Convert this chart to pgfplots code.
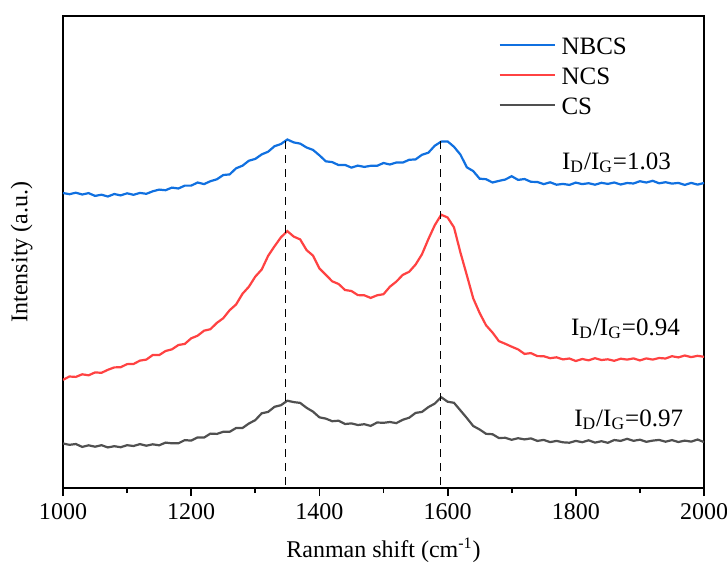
\documentclass[border=0pt]{standalone}
\usepackage{fontspec}
\setmainfont{Liberation Serif}
\usepackage{pgfplots}
\pgfplotsset{compat=1.18}
\usepackage{pgfplotstable}
\definecolor{cblue}{RGB}{16,112,224}
\definecolor{cred}{RGB}{255,66,66}
\definecolor{cgray}{RGB}{80,80,80}

% x = Raman shift, b = NBCS, r = NCS, g = CS (values in picture units, larger = lower)
\pgfplotstableread{
x b r g
1000 193.0 379.8 443.5
1010 194.2 376.5 444.8
1020 192.7 376.9 444.0
1030 194.5 374.3 446.9
1040 193.1 375.3 445.3
1050 195.9 372.4 446.7
1060 194.7 372.8 445.2
1070 196.5 369.8 447.4
1080 194.0 367.4 446.2
1090 195.4 367.2 447.2
1100 193.3 364.1 445.2
1110 194.8 364.0 446.0
1120 192.9 360.6 444.1
1130 193.8 359.6 445.7
1140 191.3 355.0 444.3
1150 189.6 355.1 445.3
1160 190.2 351.0 442.6
1170 187.6 349.3 443.3
1180 188.5 345.0 443.3
1190 185.6 343.9 440.1
1200 185.6 338.3 440.6
1210 182.5 335.7 437.4
1220 184.1 330.7 437.6
1230 181.2 329.2 433.6
1240 179.3 322.9 433.9
1250 175.0 318.2 431.8
1260 174.4 310.2 431.8
1270 168.3 304.5 428.0
1280 165.7 293.8 428.0
1290 160.7 286.7 423.5
1300 158.9 276.6 420.1
1310 154.4 269.5 413.3
1320 151.7 255.9 411.9
1330 146.2 246.3 406.8
1340 144.0 237.3 405.2
1350 139.5 231.1 400.7
1360 142.4 236.6 402.1
1370 143.6 239.4 402.9
1380 147.5 250.1 407.8
1390 149.9 255.6 411.6
1400 155.3 268.4 417.3
1410 161.3 274.8 418.6
1420 162.1 281.3 421.2
1430 165.1 284.0 420.7
1440 164.9 290.0 424.0
1450 167.6 291.0 423.4
1460 165.6 295.1 425.0
1470 166.9 295.3 424.2
1480 165.8 297.9 425.9
1490 165.8 295.3 422.5
1500 163.0 294.2 422.8
1510 164.5 286.7 422.0
1520 162.5 281.6 423.1
1530 162.6 274.9 419.8
1540 159.8 271.8 417.7
1550 159.4 264.6 412.9
1560 154.8 254.3 411.9
1570 152.7 239.1 407.1
1580 145.7 225.2 403.6
1590 141.6 214.7 397.2
1600 141.4 217.5 401.7
1610 146.8 227.4 402.8
1620 154.6 252.5 410.4
1630 167.3 275.2 418.0
1640 171.1 298.4 426.0
1650 178.7 313.0 429.5
1660 179.2 325.3 433.8
1670 182.5 332.5 434.2
1680 180.9 341.1 438.0
1690 179.5 343.8 437.8
1700 176.2 346.7 439.8
1710 179.9 349.4 438.2
1720 179.0 353.9 439.4
1730 181.8 353.1 438.4
1740 182.0 356.1 440.9
1750 184.1 356.2 439.9
1760 182.3 358.2 442.1
1770 184.7 357.3 440.9
1780 183.9 359.4 442.3
1790 184.9 358.5 442.7
1800 182.6 361.0 440.9
1810 184.1 359.0 442.2
1820 183.2 360.3 440.3
1830 184.7 358.2 442.6
1840 182.8 360.0 441.2
1850 183.9 359.3 442.8
1860 182.5 360.8 440.0
1870 184.5 358.7 440.9
1880 183.0 359.6 438.8
1890 183.5 358.4 440.8
1900 181.2 360.4 439.7
1910 182.5 358.4 441.8
1920 180.8 359.6 440.6
1930 183.3 358.0 439.9
1940 182.2 358.5 441.7
1950 183.6 356.2 440.1
1960 182.9 357.4 442.0
1970 184.9 355.5 440.6
1980 182.9 357.1 441.6
1990 184.6 355.8 439.5
2000 183.0 356.8 442.1
}\spectra

\begin{document}
\begin{tikzpicture}
\begin{axis}[
  scale only axis,
  width=320.5pt, height=236pt,
  xmin=1000, xmax=2000,
  ymin=16, ymax=488,
  y dir=reverse,
  ytick=\empty,
  xtick={1000,1200,...,2000},
  minor x tick num=1,
  xtick pos=bottom,
  tick align=outside,
  major tick length=4pt,
  minor tick length=2.5pt,
  axis line style={line width=0.9pt},
  every tick/.style={black, line width=0.9pt},
  /pgf/number format/assume math mode=true,
  /pgf/number format/1000 sep={},
  tick label style={font=\fontsize{12}{14}\selectfont},
  xlabel={Ranman shift (cm\textsuperscript{-1})},
  ylabel={Intensity (a.u.)},
  xlabel style={font=\fontsize{12}{14}\selectfont, at={(axis description cs:0.5,0)}, anchor=base, yshift=-34.5pt},
  ylabel style={font=\fontsize{12}{14}\selectfont, at={(axis description cs:-0.0646,0.5)}, anchor=center},
  legend style={draw=none, fill=none, at={(axis description cs:0.6695,0.9706)}, anchor=north west,
    font=\fontsize{12.5}{14}\selectfont, row sep=4pt, column sep=2pt,
    nodes={inner sep=1pt, text height=9pt, text depth=0pt}},
  legend cell align=left,
  legend image code/.code={\draw[#1, line width=1pt] (0pt,0pt) -- (27.5pt,0pt);},
]
\addplot[cblue, line width=1.1pt] table[x=x, y=b] {\spectra};
\addlegendentry{NBCS}
\addplot[cred, line width=1.1pt] table[x=x, y=r] {\spectra};
\addlegendentry{NCS}
\addplot[cgray, line width=1.1pt] table[x=x, y=g] {\spectra};
\addlegendentry{CS}
\addplot[black, dashed, dash pattern=on 4pt off 3pt, line width=0.6pt, forget plot] coordinates {(1347,141) (1347,488)};
\addplot[black, dashed, dash pattern=on 4pt off 3pt, line width=0.6pt, forget plot] coordinates {(1589,141) (1589,488)};
\node[anchor=base west, inner sep=0pt, font=\fontsize{12.5}{15}\selectfont] at (axis cs:1778,169) {I\textsubscript{D}/I\textsubscript{G}=1.03};
\node[anchor=base west, inner sep=0pt, font=\fontsize{12.5}{15}\selectfont] at (axis cs:1792,335) {I\textsubscript{D}/I\textsubscript{G}=0.94};
\node[anchor=base west, inner sep=0pt, font=\fontsize{12.5}{15}\selectfont] at (axis cs:1797,426) {I\textsubscript{D}/I\textsubscript{G}=0.97};
\end{axis}
\pgfresetboundingbox
\path[use as bounding box] ([shift={(-31.5pt,-37.5pt)}]current axis.south west) rectangle ([shift={(11.5pt,8pt)}]current axis.north east);
\end{tikzpicture}
\end{document}
